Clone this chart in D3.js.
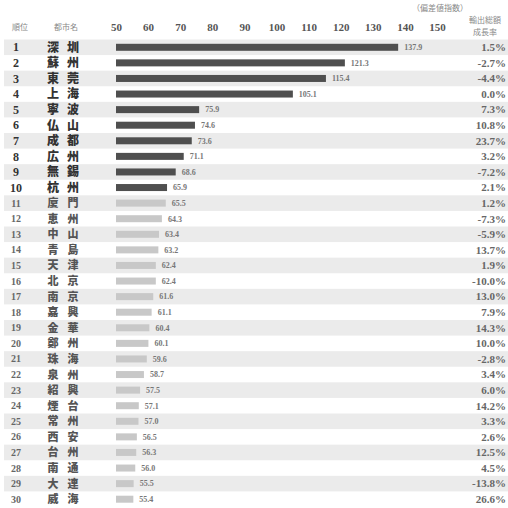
<!DOCTYPE html>
<html>
<head>
<meta charset="utf-8">
<script src="https://cdn.jsdelivr.net/npm/d3@7"></script>
<style>
  html, body { margin: 0; padding: 0; background: #fff; }
  svg { display: block; }
</style>
</head>
<body>
<svg id="chart" width="508" height="508"></svg>
<script>
// Top 30 cities: export deviation index and export growth rate
const cities = ["深圳","蘇州","東莞","上海","寧波","仏山","成都","広州","無錫","杭州",
                "廈門","恵州","中山","青島","天津","北京","南京","嘉興","金華","鄭州",
                "珠海","泉州","紹興","煙台","常州","西安","台州","南通","大連","威海"];
const indexValues = [137.9,121.3,115.4,105.1,75.9,74.6,73.6,71.1,68.6,65.9,
                     65.5,64.3,63.4,63.2,62.4,62.4,61.6,61.1,60.4,60.1,
                     59.6,58.7,57.5,57.1,57.0,56.5,56.3,56.0,55.5,55.4];
const growthRates = [1.5,-2.7,-4.4,0.0,7.3,10.8,23.7,3.2,-7.2,2.1,
                     1.2,-7.3,-5.9,13.7,1.9,-10.0,13.0,7.9,14.3,10.0,
                     -2.8,3.4,6.0,14.2,3.3,2.6,12.5,4.5,-13.8,26.6];
const tickValues = [50,60,70,80,90,100,110,120,130,140,150];

const rows = cities.map((c, i) => ({rank: i + 1, city: c, value: indexValues[i], growth: growthRates[i]}));

const svg = d3.select("#chart");
const serif = "'Liberation Serif', 'DejaVu Serif', serif";
const cjk = "'Noto Sans CJK JP', 'Noto Sans CJK SC', sans-serif";

const x = d3.scaleLinear().domain([50, 150]).range([116, 437]);
const y = d3.scaleBand().domain(d3.range(1, 31)).range([39.5, 507]).padding(0);
const cy = r => y(r) + y.bandwidth() / 2;

// alternating row bands
svg.append("g").selectAll("rect").data(rows.filter(d => d.rank % 2 === 1)).join("rect")
  .attr("x", 4).attr("y", d => y(d.rank))
  .attr("width", 504).attr("height", y.bandwidth())
  .attr("fill", "#ebebeb");

// header labels
const head = svg.append("g").attr("fill", "#888").attr("font-family", cjk).attr("font-size", 8);
head.append("text").attr("x", 20).attr("y", 30).attr("text-anchor", "middle").text("順位");
head.append("text").attr("x", 66).attr("y", 30).attr("text-anchor", "middle").text("都市名");
head.append("text").attr("x", 440).attr("y", 11).attr("text-anchor", "middle").text("（偏差値指数）");
head.append("text").attr("x", 485).attr("y", 23).attr("text-anchor", "middle").text("輸出総額");
head.append("text").attr("x", 485).attr("y", 35).attr("text-anchor", "middle").text("成長率");

// top axis: tick labels only
const axis = svg.append("g").attr("transform", "translate(0,31)")
  .call(d3.axisTop(x).tickValues(tickValues).tickSize(0).tickPadding(0));
axis.select(".domain").remove();
axis.selectAll("text")
  .attr("font-family", serif).attr("font-weight", "bold").attr("font-size", 11)
  .attr("fill", "#555");

// rank numbers
svg.append("g").selectAll("text").data(rows).join("text")
  .attr("x", 16).attr("y", d => cy(d.rank)).attr("dy", "0.35em")
  .attr("text-anchor", "middle")
  .attr("font-family", serif).attr("font-weight", "bold")
  .attr("font-size", d => d.rank <= 10 ? 12 : 10)
  .attr("fill", d => d.rank <= 10 ? "#333" : "#666")
  .text(d => d.rank);

// city names, two characters spread apart
const nameG = svg.append("g").selectAll("g").data(rows).join("g");
nameG.selectAll("text").data(d => d.city.split("").map((ch, j) => ({ch, j, rank: d.rank}))).join("text")
  .attr("x", d => 53 + d.j * 20).attr("y", d => cy(d.rank)).attr("dy", "0.36em")
  .attr("text-anchor", "middle")
  .attr("font-family", cjk).attr("font-weight", 900)
  .attr("font-size", d => d.rank <= 10 ? 12 : 11)
  .attr("fill", d => d.rank <= 10 ? "#333" : "#555")
  .text(d => d.ch);

// bars
svg.append("g").selectAll("rect").data(rows).join("rect")
  .attr("x", x(50)).attr("y", d => cy(d.rank) - 3.5)
  .attr("width", d => x(d.value) - x(50)).attr("height", 7)
  .attr("fill", d => d.rank <= 10 ? "#4f4f4f" : "#c8c8c8");

// value labels
svg.append("g").selectAll("text").data(rows).join("text")
  .attr("x", d => x(d.value) + 6).attr("y", d => cy(d.rank)).attr("dy", "0.35em")
  .attr("font-family", serif).attr("font-weight", "bold").attr("font-size", 8)
  .attr("fill", "#777")
  .text(d => d.value.toFixed(1));

// growth rates
svg.append("g").selectAll("text").data(rows).join("text")
  .attr("x", 506).attr("y", d => cy(d.rank)).attr("dy", "0.35em")
  .attr("text-anchor", "end")
  .attr("font-family", serif).attr("font-weight", "bold").attr("font-size", 11)
  .attr("fill", "#666")
  .text(d => d.growth.toFixed(1) + "%");
</script>
</body>
</html>
